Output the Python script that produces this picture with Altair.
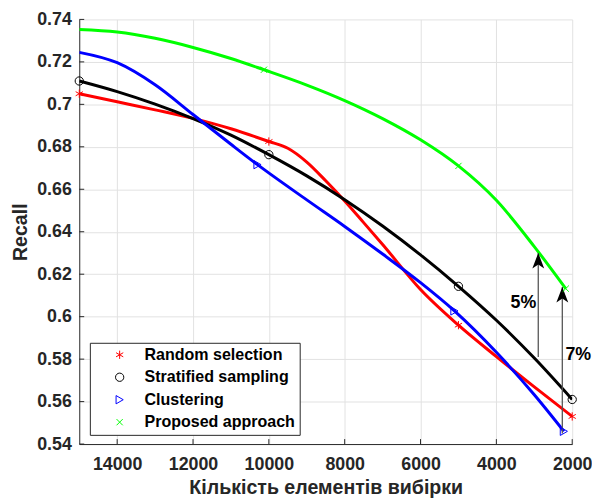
import altair as alt
import pandas as pd

SERIES = ["Random selection", "Stratified sampling", "Clustering", "Proposed approach"]
COLORS = ["#ff0000", "#000000", "#0000ff", "#00ff00"]
SHAPES = [
    "M0,-1L0,1M-0.87,-0.5L0.87,0.5M-0.87,0.5L0.87,-0.5",
    "circle",
    "triangle-right",
    "M-0.75,-0.75L0.75,0.75M-0.75,0.75L0.75,-0.75",
]

# curve samples
X_RANDOM = [15000, 14000, 13000, 12000, 11000, 10000, 9500, 9000, 8500, 8000, 7500, 7000, 6000, 5000, 4000, 3000, 2000]
Y_RANDOM = [0.7050, 0.7012, 0.6974, 0.6934, 0.6885, 0.6825, 0.6793, 0.6728, 0.6640, 0.6545, 0.6443, 0.6340, 0.6128, 0.5960, 0.5812, 0.5669, 0.5530]
X_STRAT = [15000, 14000, 13000, 12000, 11000, 10000, 9000, 8000, 7000, 6000, 5000, 4000, 3000, 2000]
Y_STRAT = [0.7110, 0.7060, 0.7001, 0.6933, 0.6855, 0.6763, 0.6663, 0.6551, 0.6427, 0.6291, 0.6143, 0.5983, 0.5805, 0.5610]
X_CLUST = [15000, 14000, 13000, 12000, 11000, 10300, 9000, 8000, 7000, 6000, 5106, 4000, 3000, 2220]
Y_CLUST = [0.7245, 0.7196, 0.7092, 0.6952, 0.6812, 0.6716, 0.6550, 0.6425, 0.6295, 0.6160, 0.6027, 0.5832, 0.5632, 0.5460]
X_PROP = [15000, 14000, 13000, 12000, 11000, 10130, 9000, 8000, 7000, 6000, 5000, 4000, 3000, 2170]
Y_PROP = [0.7353, 0.7341, 0.7311, 0.7268, 0.7216, 0.7163, 0.7091, 0.7018, 0.6933, 0.6833, 0.6710, 0.6548, 0.6330, 0.6132]

# marker positions
MX_RANDOM = [15000, 10000, 5000, 2000]
MY_RANDOM = [0.7050, 0.6825, 0.5960, 0.5530]
MX_STRAT = [15000, 10000, 5000, 2000]
MY_STRAT = [0.7110, 0.6763, 0.6143, 0.5610]
MX_CLUST = [10300, 5106, 2220]
MY_CLUST = [0.6716, 0.6027, 0.5460]
MX_PROP = [10130, 5000, 2170]
MY_PROP = [0.7163, 0.6710, 0.6132]

X_TICKS = [2000, 4000, 6000, 8000, 10000, 12000, 14000]
Y_TICKS = [0.54, 0.56, 0.58, 0.60, 0.62, 0.64, 0.66, 0.68, 0.70, 0.72, 0.74]

ARROW_X = [2895, 2261]
ARROW_FROM = [0.581, 0.545]
ARROW_TO = [0.630, 0.614]
NOTE_TEXT = ["5%", "7%"]
NOTE_X = [3287, 1839]
NOTE_Y = [0.6064, 0.5817]

HEAD = "M0,0L0.5,1.3L0,0.97L-0.5,1.3Z"
FONT = "Liberation Sans"
AXIS_COLOR = "#262626"

line_sets = [(X_RANDOM, Y_RANDOM), (X_STRAT, Y_STRAT), (X_CLUST, Y_CLUST), (X_PROP, Y_PROP)]
marker_sets = [(MX_RANDOM, MY_RANDOM), (MX_STRAT, MY_STRAT), (MX_CLUST, MY_CLUST), (MX_PROP, MY_PROP)]

markers = pd.concat(
    [pd.DataFrame({"x": xs, "y": ys, "series": s}) for (xs, ys), s in zip(marker_sets, SERIES)],
    ignore_index=True,
)

arrows = pd.DataFrame({"x": ARROW_X, "y": ARROW_FROM, "y2": ARROW_TO})
heads = pd.DataFrame({"x": ARROW_X, "y": ARROW_TO})
notes = pd.DataFrame({"x": NOTE_X, "y": NOTE_Y, "t": NOTE_TEXT})
xticks = pd.DataFrame({"x": X_TICKS})
yticks = pd.DataFrame({"y": Y_TICKS})

x_scale = alt.Scale(domain=[2000, 15000], reverse=True, nice=False, zero=False)
y_scale = alt.Scale(domain=[0.54, 0.74], nice=False, zero=False)

x_axis = alt.Axis(values=X_TICKS, format="d", title="Кількість елементів вибірки",
                  ticks=False, tickSize=0, labelPadding=12, titlePadding=4, labelFlush=False)
y_axis = alt.Axis(values=Y_TICKS, format=".2~f", title="Recall",
                  ticks=False, tickSize=0, labelPadding=8, titlePadding=6, labelFlush=False)

X = alt.X("x:Q", scale=x_scale, axis=x_axis)
Y = alt.Y("y:Q", scale=y_scale, axis=y_axis)

color_scale = alt.Scale(domain=SERIES, range=COLORS)
shape_scale = alt.Scale(domain=SERIES, range=SHAPES)

legend = alt.Legend(
    title=None, orient="none", legendX=10.7, legendY=326.7,
    padding=4, strokeColor=AXIS_COLOR, fillColor="white",
    labelFont=FONT, labelFontSize=16.2, labelFontWeight="bold", labelColor="black",
    symbolSize=70, symbolStrokeWidth=1, symbolOffset=18, labelOffset=17,
    rowPadding=5.7, labelLimit=400,
)

line_layers = [
    alt.Chart(pd.DataFrame({"x": xs, "y": ys})).mark_line(
        strokeWidth=3, interpolate="monotone", clip=True, color=c
    ).encode(x=X, y=Y)
    for (xs, ys), c in zip(line_sets, COLORS)
]

marker_layer = alt.Chart(markers).mark_point(filled=False, size=70, strokeWidth=1, opacity=1).encode(
    x=X, y=Y,
    color=alt.Color("series:N", scale=color_scale, legend=legend),
    shape=alt.Shape("series:N", scale=shape_scale, legend=legend),
)

xtick_layer = alt.Chart(xticks).mark_rule(color=AXIS_COLOR, strokeWidth=1).encode(
    x=X, y=alt.value(429), y2=alt.value(424)
)
ytick_layer = alt.Chart(yticks).mark_rule(color=AXIS_COLOR, strokeWidth=1).encode(
    y=Y, x=alt.value(0), x2=alt.value(5)
)

shaft_layer = alt.Chart(arrows).mark_rule(color="#555555", strokeWidth=1.3).encode(
    x=X, y=Y, y2="y2:Q"
)
head_layer = alt.Chart(heads).mark_point(shape=HEAD, filled=True, color="black", size=576,
                                         opacity=1, strokeWidth=0).encode(x=X, y=Y)
note_layer = alt.Chart(notes).mark_text(font=FONT, fontSize=18, fontWeight="bold", color="black").encode(
    x=X, y=Y, text="t:N"
)

chart = alt.layer(
    *line_layers, xtick_layer, ytick_layer, shaft_layer, head_layer, marker_layer, note_layer
).properties(
    width=498, height=429,
    autosize=alt.AutoSizeParams(type="none"),
    padding={"left": 72, "top": 9, "right": 20, "bottom": 56},
).configure_axis(
    labelFont=FONT, labelFontSize=18, labelFontWeight="bold", labelColor=AXIS_COLOR,
    titleFont=FONT, titleFontSize=19.8, titleFontWeight="bold", titleColor=AXIS_COLOR,
    domainColor=AXIS_COLOR, domainWidth=1, gridColor="#e2e2e2", gridWidth=1,
).configure_view(stroke=None)

chart.save("out.html", embed_options={"renderer": "svg", "actions": False})
